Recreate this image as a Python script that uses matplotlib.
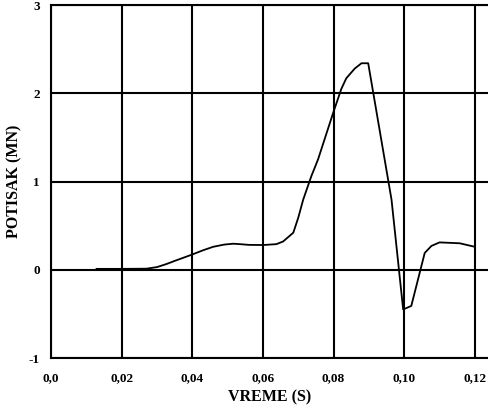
import matplotlib
matplotlib.use("Agg")
import matplotlib.pyplot as plt

# time (s) and thrust (MN)
vreme = [0.0129, 0.020, 0.027, 0.030, 0.0327, 0.035, 0.0398, 0.043, 0.0459,
         0.049, 0.0516, 0.0535, 0.056, 0.060, 0.0638, 0.0657, 0.0686, 0.070,
         0.0714, 0.0737, 0.0756, 0.0799, 0.0822, 0.0836, 0.086, 0.0879, 0.0898,
         0.0964, 0.0997, 0.102, 0.1058, 0.1077, 0.110, 0.1157, 0.120]
potisak = [0.01, 0.01, 0.012, 0.03, 0.065, 0.10, 0.17, 0.22, 0.26,
           0.285, 0.295, 0.29, 0.282, 0.28, 0.29, 0.32, 0.42, 0.59,
           0.795, 1.06, 1.25, 1.78, 2.05, 2.17, 2.28, 2.34, 2.34,
           0.795, -0.45, -0.41, 0.19, 0.27, 0.31, 0.30, 0.26]

x_ticks = [0.0, 0.02, 0.04, 0.06, 0.08, 0.10, 0.12]
x_labels = ["0,0", "0,02", "0,04", "0,06", "0,08", "0,10", "0,12"]
y_ticks = [-1, 0, 1, 2, 3]

plt.rcParams["font.family"] = ["Liberation Serif", "DejaVu Serif"]
plt.rcParams["font.weight"] = "bold"
plt.rcParams["axes.unicode_minus"] = False

fig = plt.figure(figsize=(4.89, 4.11), dpi=100)
ax = fig.add_axes([51 / 489, 1 - 358 / 411, 1 - 51 / 489, 353 / 411])

ax.plot(vreme, potisak, color="black", lw=1.3, zorder=3)

ax.set_xlim(0, 0.124)
ax.set_ylim(-1, 3)
ax.set_xticks(x_ticks)
ax.set_xticklabels(x_labels)
ax.set_yticks(y_ticks)
ax.tick_params(length=0, labelsize=9.5)
ax.tick_params(axis="x", pad=10)
ax.tick_params(axis="y", pad=8)
for lab in ax.get_xticklabels() + ax.get_yticklabels():
    lab.set_fontweight("bold")

ax.grid(True, color="black", lw=1.5)
ax.set_axisbelow(True)
for side in ("left", "bottom", "top"):
    ax.spines[side].set_linewidth(1.5)
ax.spines["right"].set_visible(False)

ax.set_xlabel("VREME (S)", fontsize=11.5, fontweight="bold", labelpad=4)
ax.set_ylabel("POTISAK (MN)", fontsize=11.5, fontweight="bold")
ax.yaxis.set_label_coords(-0.066, 0.5)

fig.savefig("out.png", dpi=100)
